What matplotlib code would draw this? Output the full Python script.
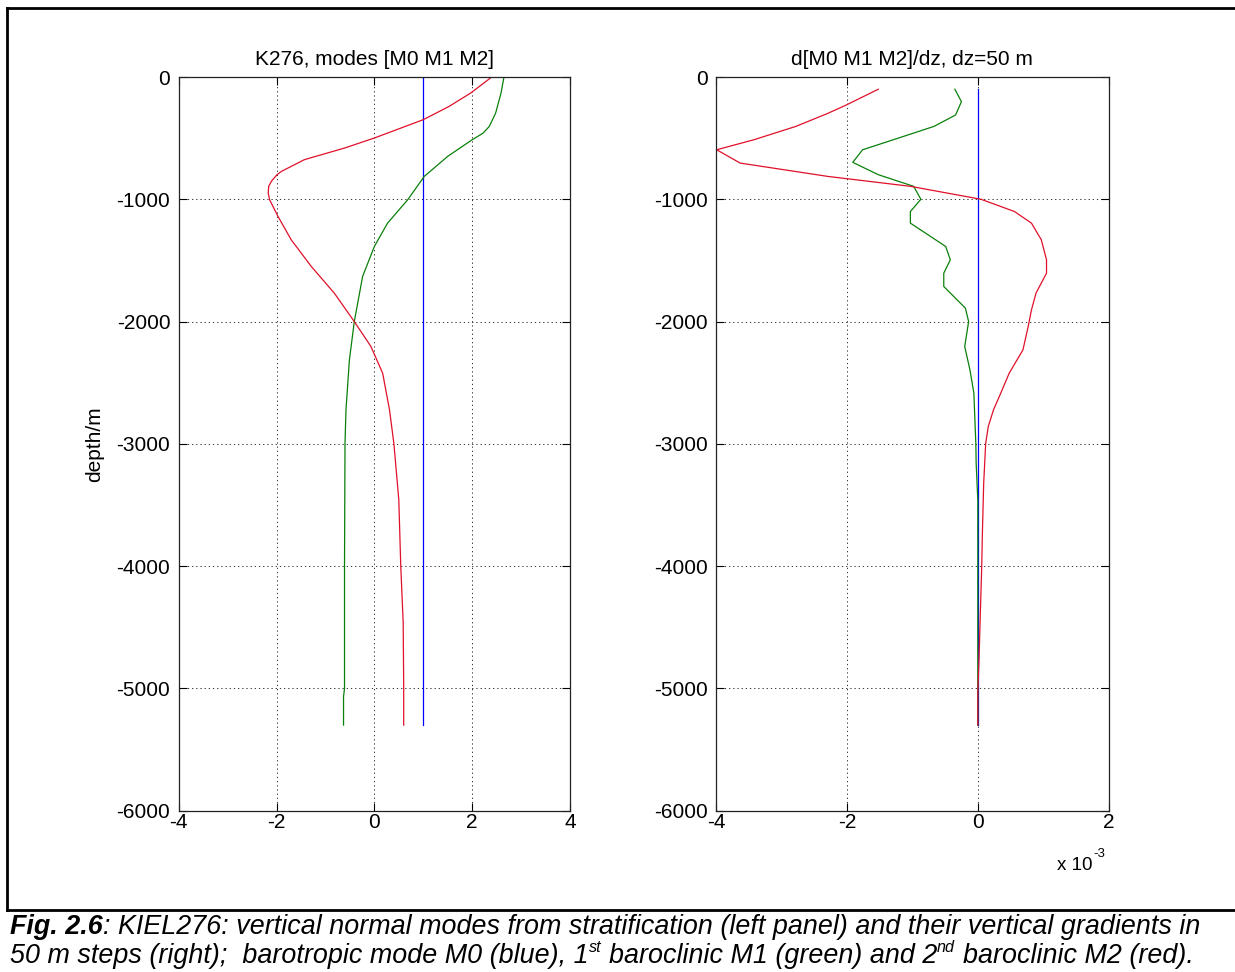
import matplotlib
matplotlib.use("Agg")
import matplotlib.pyplot as plt
from matplotlib.lines import Line2D

plt.rcParams['font.family'] = ['Liberation Sans', 'DejaVu Sans']
plt.rcParams['axes.unicode_minus'] = False

W, H, DPI = 1235, 972, 100

# ---- left panel: vertical normal modes ----
depth_m0 = [0, -5300]
mode_m0 = [1.0, 1.0]

depth_m1 = [0, -131, -295, -404, -460, -513, -649, -813, -1005, -1195, -1386, -1631,
            -2000, -2313, -2722, -3000, -4000, -5000, -5068, -5300]
mode_m1 = [2.65, 2.59, 2.48, 2.35, 2.22, 2.00, 1.50, 1.02, 0.68, 0.27, 0.00, -0.24,
           -0.41, -0.51, -0.58, -0.60, -0.61, -0.61, -0.63, -0.63]

depth_m2 = [0, -131, -240, -349, -499, -581, -676, -731, -772, -799, -850, -894, -950,
            -1005, -1140, -1331, -1549, -1767, -2000, -2204, -2422, -2722, -3000,
            -3458, -4000, -4468, -5000, -5300]
mode_m2 = [2.40, 1.97, 1.53, 1.00, 0.00, -0.61, -1.43, -1.70, -1.90, -1.99, -2.10, -2.16, -2.17,
           -2.14, -1.97, -1.70, -1.29, -0.82, -0.41, -0.07, 0.17, 0.31, 0.40,
           0.50, 0.54, 0.59, 0.60, 0.60]

# ---- right panel: vertical gradients, units of 1e-3 ----
gdepth_m0 = [-100, -5300]
grad_m0 = [0.0, 0.0]

gdepth_m1 = [-100, -202, -311, -404, -513, -595, -698, -799, -894, -1000, -1100,
             -1195, -1386, -1495, -1604, -1713, -1890, -2000, -2204, -2395, -2586,
             -3000, -3160, -3460, -4000, -4500, -5000, -5300]
grad_m1 = [-0.35, -0.25, -0.34, -0.67, -1.29, -1.76, -1.91, -1.52, -0.98, -0.87, -1.03,
           -1.03, -0.49, -0.42, -0.52, -0.52, -0.19, -0.14, -0.20, -0.12, -0.06,
           -0.03, -0.025, 0.0, 0.0, 0.0, 0.0, 0.0]

gdepth_m2 = [-100, -229, -297, -404, -513, -595, -704, -813, -894, -1000, -1100,
             -1195, -1331, -1495, -1604, -1767, -1904, -2040, -2231, -2422, -2586,
             -2722, -2858, -3000, -3322, -3733, -4005, -4360, -4740, -5040, -5300]
grad_m2 = [-1.52, -2.01, -2.29, -2.78, -3.42, -3.99, -3.63, -2.29, -1.03, 0.05, 0.56,
           0.82, 0.97, 1.05, 1.05, 0.89, 0.82, 0.77, 0.69, 0.48, 0.35,
           0.24, 0.16, 0.12, 0.09, 0.07, 0.06, 0.04, 0.02, 0.0, 0.0]

depth_ticks = [-6000, -5000, -4000, -3000, -2000, -1000, 0]
left_xticks = [-4, -2, 0, 2, 4]
right_xticks = [-4, -2, 0, 2]

titles = ['K276, modes [M0 M1 M2]', 'd[M0 M1 M2]/dz, dz=50 m']
ylabel = 'depth/m'

C_BLUE, C_GREEN, C_RED = '#0000ff', '#0a800a', '#e0102a'

fig = plt.figure(figsize=(W / DPI, H / DPI), dpi=DPI)


def px_rect(x0, y0, x1, y1):
    return [x0 / W, 1 - y1 / H, (x1 - x0) / W, (y1 - y0) / H]


axL = fig.add_axes(px_rect(178.7, 77, 570, 810.7))
axR = fig.add_axes(px_rect(716, 77, 1108.7, 810.7))


def style(ax, xticks, title):
    ax.set_xlim(xticks[0], xticks[-1])
    ax.set_ylim(-6000, 0)
    ax.set_xticks(xticks)
    ax.set_xticklabels([str(v) for v in xticks])
    ax.set_yticks(depth_ticks)
    ax.set_yticklabels([str(v) for v in depth_ticks])
    ax.tick_params(direction='in', length=5.5, width=0.8, top=True, right=True,
                   labelsize=15, colors='black')
    ax.tick_params(axis='x', pad=2)
    ax.tick_params(axis='y', pad=6)
    ax.grid(True, color='#333333', linestyle=(0, (1.3, 3.0)), linewidth=0.7)
    for s in ax.spines.values():
        s.set_linewidth(0.9)
        s.set_color('#222222')
    ax.set_title(title, fontsize=15, pad=9)


style(axL, left_xticks, titles[0])
style(axR, right_xticks, titles[1])

lw = 0.9
axL.plot(mode_m0, depth_m0, color=C_BLUE, lw=lw)
axL.plot(mode_m1, depth_m1, color=C_GREEN, lw=lw)
axL.plot(mode_m2, depth_m2, color=C_RED, lw=lw)

axR.plot(grad_m0, gdepth_m0, color=C_BLUE, lw=lw)
axR.plot(grad_m1, gdepth_m1, color=C_GREEN, lw=lw)
axR.plot(grad_m2, gdepth_m2, color=C_RED, lw=lw)

fig.text(95 / W, 1 - 444 / H, ylabel, rotation=90, ha='center', va='center', fontsize=15)

renderer = fig.canvas.get_renderer()

# exponent label of the right x axis
t10 = fig.text(1057 / W, 1 - 870 / H, 'x 10', fontsize=13.5, va='baseline', ha='left')
bb = t10.get_window_extent(renderer)
fig.text((1057 + bb.width + 1) / W, 1 - 857 / H, '-3', fontsize=9.5, va='baseline', ha='left')

# figure frame and caption separator
frame_kw = dict(transform=fig.transFigure, color='black', lw=2.0, solid_capstyle='projecting')
fig.add_artist(Line2D([7 / W, 1.0], [1 - 8.5 / H, 1 - 8.5 / H], **frame_kw))
fig.add_artist(Line2D([7 / W, 7 / W], [1 - 8.5 / H, 1 - 910 / H], **frame_kw))
fig.add_artist(Line2D([7 / W, 1.0], [1 - 910 / H, 1 - 910 / H], **frame_kw))

# caption with bold figure number and superscripts
caption_lines = [
    [("Fig. 2.6", 'bold', False),
     (": KIEL276: vertical normal modes from stratification (left panel) and their vertical gradients in", 'normal', False)],
    [("50 m steps (right);  barotropic mode M0 (blue), 1", 'normal', False),
     ("st", 'normal', True),
     (" baroclinic M1 (green) and 2", 'normal', False),
     ("nd", 'normal', True),
     (" baroclinic M2 (red).", 'normal', False)],
]


def text_width(s, size, weight):
    t = fig.text(0, 0, s, fontsize=size, fontstyle='italic', fontweight=weight)
    w = t.get_window_extent(renderer).width
    t.remove()
    return w


def draw_runs(runs, x0, y_base, size, draw=True):
    space_w = text_width('x x', size, 'normal') - text_width('xx', size, 'normal')
    x = x0
    for s, weight, sup in runs:
        fs = size * 0.6 if sup else size
        lead = len(s) - len(s.lstrip(' '))
        x += lead * space_w
        s = s.lstrip(' ')
        y = y_base - (size * 0.42 * DPI / 72 if sup else 0)
        t = fig.text(x / W, 1 - y / H, s, fontsize=fs, fontstyle='italic',
                     fontweight=weight, va='baseline', ha='left')
        x += t.get_window_extent(renderer).width
        if not draw:
            t.remove()
    return x


base_size = 16.0
end = draw_runs(caption_lines[0], 10, 934, base_size, draw=False)
cap_size = base_size * (1196 - 10) / (end - 10)
draw_runs(caption_lines[0], 10, 934, cap_size)
draw_runs(caption_lines[1], 10, 963, cap_size)

fig.savefig('out.png', dpi=DPI)
